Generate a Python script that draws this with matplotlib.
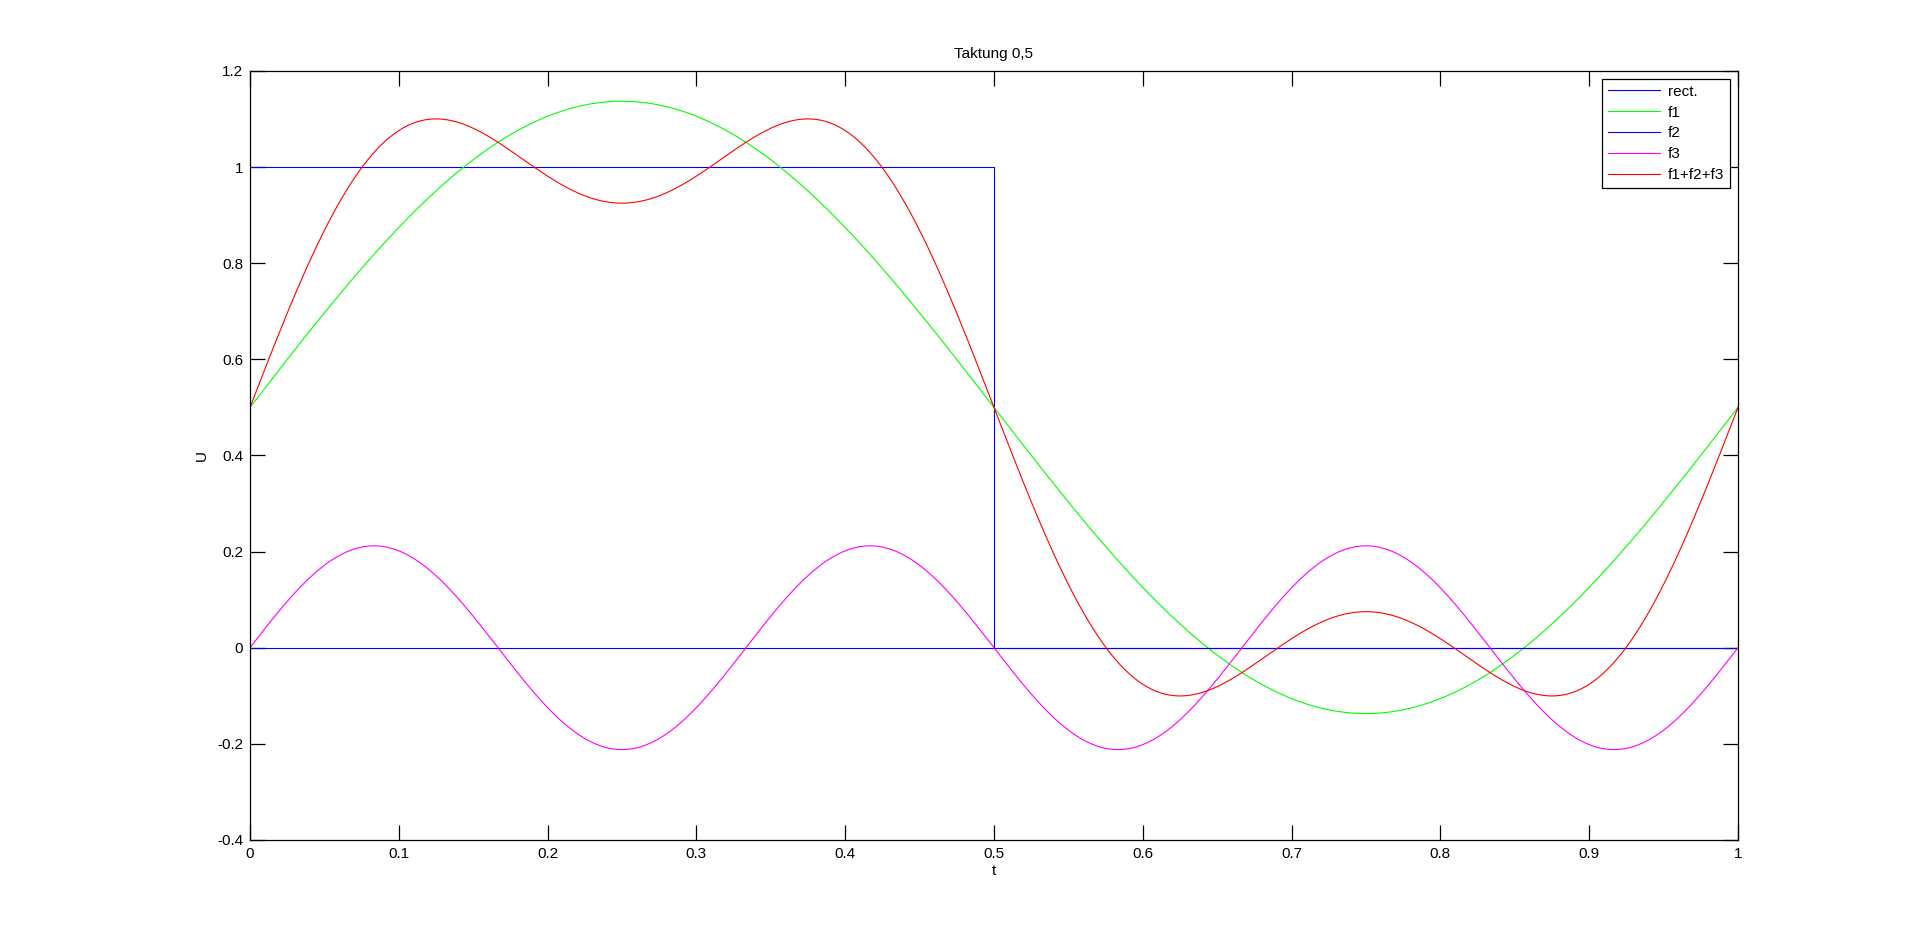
import numpy as np
import matplotlib
matplotlib.use('Agg')
import matplotlib.pyplot as plt

# values (duty cycle 0.5)
rect_t = [0.0, 0.5, 0.5, 1.0]
rect_u = [1.0, 1.0, 0.0, 0.0]
dc_offset = 0.5                   # mean value, carried by f1
harmonics = [1, 2, 3]
amplitudes = [0.637, 0.0, 0.212]  # peak of each harmonic
labels = ['rect.', 'f1', 'f2', 'f3', 'f1+f2+f3']
colors = ['#0000ff', '#00ff00', '#0000ff', '#ff00ff', '#ff0000']

plt.rcParams['font.family'] = ['Liberation Sans', 'DejaVu Sans']
plt.rcParams['font.size'] = 11

t = np.linspace(0, 1, 1001)
parts = []
for k, a in zip(harmonics, amplitudes):
    parts.append(a * np.sin(2 * np.pi * k * t))
parts[0] = parts[0] + dc_offset
total = parts[0] + parts[1] + parts[2]

fig = plt.figure(figsize=(19.2, 9.44), dpi=100)
ax = fig.add_axes([0.1302, 0.1102, 0.7750, 0.8146])

lw = 0.8
ax.plot(rect_t, rect_u, color=colors[0], lw=lw, label=labels[0])
ax.plot(t, parts[0], color=colors[1], lw=lw, label=labels[1])
ax.plot(t, parts[1], color=colors[2], lw=lw, label=labels[2])
ax.plot(t, parts[2], color=colors[3], lw=lw, label=labels[3])
ax.plot(t, total, color=colors[4], lw=lw, label=labels[4])

ax.set_xlim(0, 1)
ax.set_ylim(-0.4, 1.2)
ax.set_xticks(np.arange(0, 1.01, 0.1))
ax.set_xticklabels(['0', '0.1', '0.2', '0.3', '0.4', '0.5', '0.6', '0.7', '0.8', '0.9', '1'])
ax.set_yticks(np.arange(-0.4, 1.21, 0.2))
ax.set_yticklabels(['-0.4', '-0.2', '0', '0.2', '0.4', '0.6', '0.8', '1', '1.2'])
ax.tick_params(direction='in', length=11, width=0.9, top=True, right=True, pad=5, labelsize=11)
for s in ax.spines.values():
    s.set_linewidth(0.9)

ax.set_title('Taktung 0,5', fontsize=11, pad=9)
ax.set_xlabel('t', fontsize=11, labelpad=2)
ax.set_ylabel('U', fontsize=11, labelpad=6)

leg = ax.legend(loc='upper right', fontsize=11, frameon=True, fancybox=False,
                edgecolor='black', framealpha=1, handlelength=3.4, handletextpad=0.5,
                labelspacing=0.45, borderpad=0.4, borderaxespad=0.5)
leg.get_frame().set_linewidth(0.9)

fig.savefig('out.png', dpi=100)
